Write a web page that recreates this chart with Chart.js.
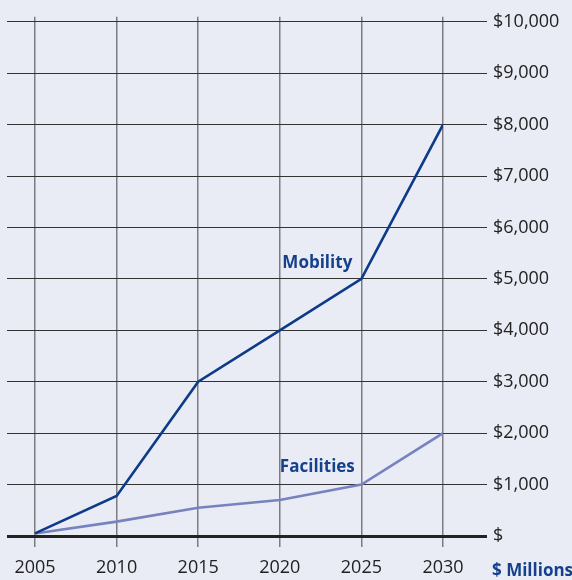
<!DOCTYPE html>
<html>
<head>
<meta charset="utf-8">
<script src="https://cdn.jsdelivr.net/npm/chart.js@4"></script>
<style>
  html, body { margin: 0; padding: 0; background: #e9ecf5; }
  canvas { display: block; }
</style>
</head>
<body>
<canvas id="costChart" width="572" height="580"></canvas>
<script>
const years = [2005, 2010, 2015, 2020, 2025, 2030];
const mobility = [50, 780, 3000, 4000, 5000, 8000];
const facilities = [50, 280, 550, 700, 1000, 2000];
const yTicks = [0, 1000, 2000, 3000, 4000, 5000, 6000, 7000, 8000, 9000, 10000];

const NAVY = "#0d3b88";
const LAVENDER = "#7683bf";
const LABEL = "#16408c";

// series names and the unit note, drawn on top of the plot
const labelsPlugin = {
  id: "seriesLabels",
  afterDatasetsDraw(chart) {
    const { ctx, scales } = chart;
    const x = scales.x, y = scales.y;
    ctx.save();
    ctx.fillStyle = LABEL;
    ctx.font = "bold 17px 'Open Sans'";
    ctx.textAlign = "center";
    ctx.textBaseline = "middle";
    ctx.fillText("Mobility", x.getPixelForValue(2022.3), y.getPixelForValue(5300));
    ctx.fillText("Facilities", x.getPixelForValue(2022.3), y.getPixelForValue(1340));
    ctx.textAlign = "left";
    ctx.textBaseline = "alphabetic";
    ctx.font = "bold 17px 'Open Sans'";
    ctx.fillText("$ Millions", 492, 576);
    ctx.restore();
  },
};

new Chart(document.getElementById("costChart"), {
  type: "line",
  data: {
    datasets: [
      {
        label: "Mobility",
        data: years.map((yr, i) => ({ x: yr, y: mobility[i] })),
        borderColor: NAVY,
        borderWidth: 2.6,
        pointRadius: 0,
        tension: 0,
      },
      {
        label: "Facilities",
        data: years.map((yr, i) => ({ x: yr, y: facilities[i] })),
        borderColor: LAVENDER,
        borderWidth: 2.6,
        pointRadius: 0,
        tension: 0,
      },
    ],
  },
  options: {
    responsive: false,
    animation: false,
    layout: { padding: { left: 7, top: 13, right: 0, bottom: 0 } },
    plugins: { legend: { display: false }, tooltip: { enabled: false } },
    scales: {
      x: {
        type: "linear",
        min: 2003.284,
        max: 2030,
        afterBuildTicks: (scale) => { scale.ticks = years.map((v) => ({ value: v })); },
        afterFit: (scale) => { scale.height = 44; },
        border: { display: false },
        grid: { color: "#7c7c80", lineWidth: 1.5, tickLength: 11 },
        ticks: {
          color: "#222",
          font: { family: "'Open Sans'", size: 18 },
          padding: 10,
          maxRotation: 0,
          callback: (v) => String(v),
        },
      },
      y: {
        position: "right",
        min: 0,
        max: 10097,
        afterBuildTicks: (scale) => { scale.ticks = yTicks.map((v) => ({ value: v })); },
        afterFit: (scale) => { scale.width = 129; },
        border: { display: false },
        grid: {
          color: (c) => (c.tick && c.tick.value === 0 ? "#222" : "#333"),
          lineWidth: (c) => (c.tick && c.tick.value === 0 ? 3 : 1),
          tickLength: 44,
        },
        ticks: {
          color: "#222",
          font: { family: "'Open Sans'", size: 18 },
          padding: 6,
          callback: (v) => (v === 0 ? "$" : "$" + v.toLocaleString("en-US")),
        },
      },
    },
  },
  plugins: [labelsPlugin],
});
</script>
</body>
</html>
